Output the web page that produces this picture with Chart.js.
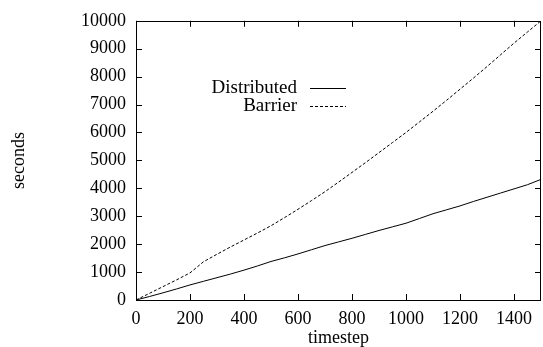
<!DOCTYPE html>
<html>
<head>
<meta charset="utf-8">
<script src="https://cdn.jsdelivr.net/npm/chart.js@4.4.1/dist/chart.umd.min.js"></script>
<style>
html,body{margin:0;padding:0;background:#fff;}
#wrap{width:543px;height:347px;position:relative;}
</style>
</head>
<body>
<div id="wrap"><canvas id="c" width="543" height="347"></canvas></div>
<script>
const timesteps = [0,50,100,150,200,250,300,350,400,450,500,550,600,650,700,750,800,850,900,950,1000,1050,1100,1150,1200,1250,1300,1350,1400,1450,1500];
const distributed = [0,125,257,395,540,670,800,930,1070,1220,1380,1510,1650,1800,1950,2080,2210,2350,2490,2620,2750,2920,3090,3230,3370,3530,3680,3830,3980,4130,4320];
const barrier = [0,240,480,720,970,1370,1640,1900,2150,2400,2660,2950,3250,3560,3880,4220,4570,4920,5280,5640,6000,6380,6760,7150,7550,7950,8360,8780,9200,9600,10000];
const xTickValues = [0,200,400,600,800,1000,1200,1400];
const yTickValues = [0,1000,2000,3000,4000,5000,6000,7000,8000,9000,10000];
const seriesNames = ["Distributed","Barrier"];
const xTitle = "timestep";
const yTitle = "seconds";

const FONT = '"Liberation Serif", "Times New Roman", serif';

const framePlugin = {
  id: 'frame',
  afterDraw(chart) {
    const ctx = chart.ctx, a = chart.chartArea;
    const xs = chart.scales.x, ys = chart.scales.y;
    ctx.save();
    ctx.strokeStyle = '#000';
    ctx.lineWidth = 1;
    ctx.beginPath();
    ctx.rect(Math.round(a.left)+0.5, Math.round(a.top)+0.5, Math.round(a.right-a.left)-1, Math.round(a.bottom-a.top));
    ctx.stroke();
    const tl = 6;
    ctx.beginPath();
    xs.ticks.forEach(t => {
      const px = Math.round(xs.getPixelForValue(t.value)) + 0.5;
      ctx.moveTo(px, a.bottom); ctx.lineTo(px, a.bottom - tl);
      ctx.moveTo(px, a.top); ctx.lineTo(px, a.top + tl);
    });
    ys.ticks.forEach(t => {
      const py = Math.round(ys.getPixelForValue(t.value)) + 0.5;
      ctx.moveTo(a.left, py); ctx.lineTo(a.left + tl, py);
      ctx.moveTo(a.right, py); ctx.lineTo(a.right - tl, py);
    });
    ctx.stroke();
    ctx.font = "19px " + FONT;
    ctx.fillStyle = '#000';
    ctx.textAlign = 'right';
    ctx.textBaseline = 'middle';
    const lx = 297, ly0 = 88, dy = 18;
    chart.data.datasets.forEach((ds, i) => {
      const y = ly0 + i*dy;
      ctx.fillText(ds.label, lx, y);
      ctx.beginPath();
      ctx.setLineDash(ds.borderDash || []);
      ctx.moveTo(310, Math.round(y)+0.5);
      ctx.lineTo(346, Math.round(y)+0.5);
      ctx.stroke();
    });
    ctx.restore();
  }
};

new Chart(document.getElementById('c'), {
  type: 'line',
  data: {
    datasets: [
      { label: seriesNames[0], data: timesteps.map((t,i)=>({x:t,y:distributed[i]})), borderColor:'#000', borderWidth:1, pointRadius:0, tension:0, fill:false },
      { label: seriesNames[1], data: timesteps.map((t,i)=>({x:t,y:barrier[i]})), borderColor:'#000', borderWidth:1, borderDash:[3,2], pointRadius:0, tension:0, fill:false }
    ]
  },
  options: {
    responsive: false,
    animation: false,
    devicePixelRatio: 1,
    layout: { padding: { left: 0, right: 2, top: 16, bottom: 0 } },
    plugins: { legend: { display: false }, tooltip: { enabled: false } },
    scales: {
      x: {
        type: 'linear', min: 0, max: 1500,
        afterBuildTicks(s) { s.ticks = xTickValues.map(v => ({ value: v })); },
        ticks: { color: '#000', font: { family: FONT, size: 18 }, padding: 8, maxRotation: 0, autoSkip: false, callback: v => String(v) },
        grid: { display: false, drawTicks: false },
        border: { display: false },
        title: { display: true, text: xTitle, color: '#000', font: { family: FONT, size: 18, lineHeight: 1.0 }, padding: { top: 0, bottom: 0 } },
        afterFit(s) { s.height = 47; }
      },
      y: {
        type: 'linear', min: 0, max: 10000,
        afterBuildTicks(s) { s.ticks = yTickValues.map(v => ({ value: v })); },
        ticks: { color: '#000', font: { family: FONT, size: 18 }, padding: 10, autoSkip: false, callback: v => String(v) },
        grid: { display: false, drawTicks: false },
        border: { display: false },
        title: { display: true, text: yTitle, color: '#000', font: { family: FONT, size: 18 }, padding: { top: 8, bottom: 0 } },
        afterFit(s) { s.width = 136; }
      }
    }
  },
  plugins: [framePlugin]
});
</script>
</body>
</html>
